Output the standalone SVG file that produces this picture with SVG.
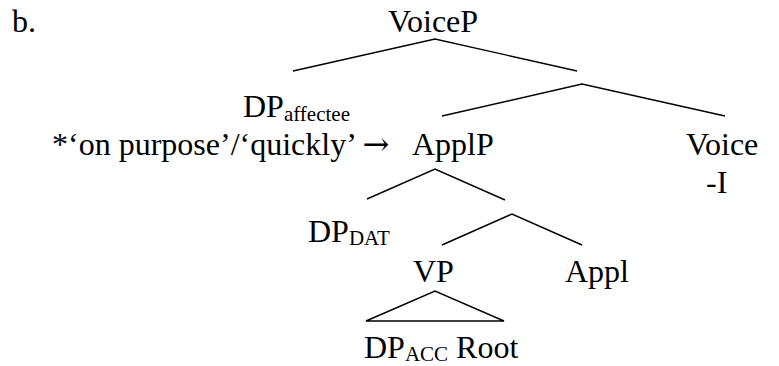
<svg xmlns="http://www.w3.org/2000/svg" width="779" height="366" viewBox="0 0 779 366">
<style>
.t{font-family:"Liberation Serif","Times New Roman",serif;font-size:32px;fill:#000}
.sub{font-size:21px}
.arr{font-family:"DejaVu Serif","Liberation Serif",serif}
.edge{stroke:#000;stroke-width:1.4;fill:none}
</style>
<rect width="779" height="366" fill="#fff"/>
<g class="t">
<text id="label-b" x="12" y="32">b.</text>
<g id="VoiceP"><text x="388" y="32">VoiceP</text></g>
<g id="DPaffectee"><text x="243" y="117">DP<tspan class="sub" dy="4">affectee</tspan></text></g>
<g id="adverb"><text x="52" y="155">*‘on purpose’/‘quickly’ <tspan class="arr">→</tspan></text></g>
<g id="ApplP"><text x="412" y="155">ApplP</text></g>
<g id="Voice"><text x="686" y="155">Voice</text><text x="706" y="193">-I</text></g>
<g id="DPDAT"><text x="308" y="242">DP<tspan class="sub" dy="3">DAT</tspan></text></g>
<g id="VP"><text x="413" y="282">VP</text></g>
<g id="Appl"><text x="565" y="282">Appl</text></g>
<g id="DPACCRoot"><text x="364" y="358">DP<tspan class="sub" dy="3">ACC</tspan><tspan dy="-3"> Root</tspan></text></g>
</g>
<g id="connectors" class="edge">
<polyline points="293,71 435,39 577,71"/>
<polyline points="442,116 582,84 725,116"/>
<polyline points="367,199 435,169 505,200"/>
<polyline points="442,245 512,214 582,245"/>
<polygon points="366,321 435,291 504,321"/>
</g>
</svg>
